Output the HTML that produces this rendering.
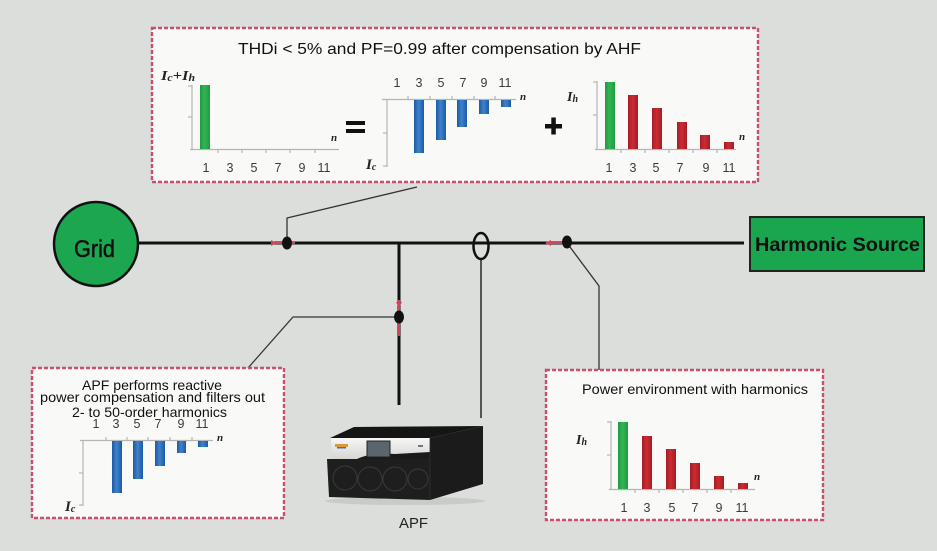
<!DOCTYPE html>
<html><head><meta charset="utf-8"><style>
html,body{margin:0;padding:0;background:#dcdedb;}
svg{display:block;}
.t{font-family:"Liberation Sans",sans-serif;}
.lab{font-family:"Liberation Sans",sans-serif;font-size:12.5px;fill:#3a3a3a;text-anchor:middle;}
.iv{font-family:"Liberation Serif",serif;font-style:italic;font-weight:bold;fill:#222;}
</style></head><body>
<svg width="937" height="551" viewBox="0 0 937 551" xmlns="http://www.w3.org/2000/svg">
<defs>
<linearGradient id="gb" x1="0" x2="1" y1="0" y2="0"><stop offset="0" stop-color="#1d5aa3"/><stop offset="0.45" stop-color="#3f82cc"/><stop offset="1" stop-color="#1d5aa3"/></linearGradient>
<linearGradient id="gr" x1="0" x2="1" y1="0" y2="0"><stop offset="0" stop-color="#a51d25"/><stop offset="0.45" stop-color="#cc2b33"/><stop offset="1" stop-color="#a51d25"/></linearGradient>
<linearGradient id="gg" x1="0" x2="1" y1="0" y2="0"><stop offset="0" stop-color="#1f9a3f"/><stop offset="0.45" stop-color="#33b553"/><stop offset="1" stop-color="#1f9a3f"/></linearGradient>
<linearGradient id="gs" x1="0" x2="0" y1="0" y2="1"><stop offset="0" stop-color="#f7f7f5"/><stop offset="1" stop-color="#d4d5d3"/></linearGradient>
</defs>
<rect width="937" height="551" fill="#dcdedb"/>

<!-- Top box -->
<rect x="152" y="28" width="606" height="154" fill="#f9f9f7" stroke="#c8506a" stroke-width="2.4" stroke-dasharray="4 2"/>
<text class="t" x="238" y="54" font-size="16" fill="#111" textLength="403" lengthAdjust="spacingAndGlyphs">THDi &lt; 5% and PF=0.99 after compensation by  AHF</text>

<!-- chart 1 -->
<text class="iv" x="161" y="80" font-size="14" textLength="34" lengthAdjust="spacingAndGlyphs">I<tspan font-size="10" dy="1">c</tspan><tspan dy="-1">+I</tspan><tspan font-size="10" dy="1">h</tspan></text>
<g stroke="#b5b5b5" stroke-width="1.2">
<line x1="192" y1="85" x2="192" y2="150"/><line x1="188" y1="117" x2="192" y2="117"/><line x1="188" y1="86" x2="192" y2="86"/>
<line x1="190" y1="149.5" x2="339" y2="149.5"/>
<line x1="218" y1="149" x2="218" y2="153"/><line x1="242" y1="149" x2="242" y2="153"/><line x1="266" y1="149" x2="266" y2="153"/><line x1="290" y1="149" x2="290" y2="153"/><line x1="315" y1="149" x2="315" y2="153"/>
</g>
<rect x="200" y="85" width="10" height="64" fill="url(#gg)"/>
<text class="iv" x="331" y="141" font-size="11">n</text>
<g class="lab"><text x="206" y="172">1</text><text x="230" y="172">3</text><text x="254" y="172">5</text><text x="278" y="172">7</text><text x="302" y="172">9</text><text x="324" y="172">11</text></g>

<!-- = -->
<rect x="346" y="121" width="19" height="4" fill="#111"/><rect x="346" y="129" width="19" height="4" fill="#111"/>

<!-- chart 2 -->
<g stroke="#b5b5b5" stroke-width="1.2">
<line x1="387" y1="99" x2="387" y2="167"/><line x1="383" y1="133" x2="387" y2="133"/><line x1="383" y1="166" x2="387" y2="166"/>
<line x1="382" y1="99.5" x2="516" y2="99.5"/>
<line x1="408" y1="96" x2="408" y2="100"/><line x1="430" y1="96" x2="430" y2="100"/><line x1="452" y1="96" x2="452" y2="100"/><line x1="474" y1="96" x2="474" y2="100"/><line x1="495" y1="96" x2="495" y2="100"/>
</g>
<rect x="414" y="100" width="10" height="53" fill="url(#gb)"/>
<rect x="436" y="100" width="10" height="40" fill="url(#gb)"/>
<rect x="457" y="100" width="10" height="27" fill="url(#gb)"/>
<rect x="479" y="100" width="10" height="14" fill="url(#gb)"/>
<rect x="501" y="100" width="10" height="7" fill="url(#gb)"/>
<text class="iv" x="520" y="100" font-size="11">n</text>
<text class="iv" x="366" y="169" font-size="15">I<tspan font-size="10" dy="1">c</tspan></text>
<g class="lab"><text x="397" y="87">1</text><text x="419" y="87">3</text><text x="441" y="87">5</text><text x="463" y="87">7</text><text x="484" y="87">9</text><text x="505" y="87">11</text></g>

<!-- + -->
<rect x="545" y="124" width="17" height="4.5" fill="#111"/><rect x="551.3" y="117.5" width="4.5" height="17" fill="#111"/>

<!-- chart 3 -->
<text class="iv" x="567" y="101" font-size="14">I<tspan font-size="10" dy="1">h</tspan></text>
<g stroke="#b5b5b5" stroke-width="1.2">
<line x1="597" y1="81" x2="597" y2="149"/><line x1="593" y1="115" x2="597" y2="115"/><line x1="593" y1="82" x2="597" y2="82"/>
<line x1="595" y1="149.5" x2="736" y2="149.5"/>
<line x1="621" y1="149" x2="621" y2="153"/><line x1="645" y1="149" x2="645" y2="153"/><line x1="669" y1="149" x2="669" y2="153"/><line x1="693" y1="149" x2="693" y2="153"/><line x1="717" y1="149" x2="717" y2="153"/>
</g>
<rect x="605" y="82" width="10" height="67" fill="url(#gg)"/>
<rect x="628" y="95" width="10" height="54" fill="url(#gr)"/>
<rect x="652" y="108" width="10" height="41" fill="url(#gr)"/>
<rect x="677" y="122" width="10" height="27" fill="url(#gr)"/>
<rect x="700" y="135" width="10" height="14" fill="url(#gr)"/>
<rect x="724" y="142" width="10" height="7" fill="url(#gr)"/>
<text class="iv" x="739" y="140" font-size="11">n</text>
<g class="lab"><text x="609" y="172">1</text><text x="633" y="172">3</text><text x="656" y="172">5</text><text x="680" y="172">7</text><text x="706" y="172">9</text><text x="729" y="172">11</text></g>

<!-- Main diagram lines -->
<line x1="136" y1="243" x2="744" y2="243" stroke="#111" stroke-width="3"/>
<line x1="399" y1="243" x2="399" y2="405" stroke="#111" stroke-width="3"/>
<!-- leaders -->
<polyline points="287,243 287,218 417,187" fill="none" stroke="#333" stroke-width="1.3"/>
<polyline points="399,317 293,317 248,368" fill="none" stroke="#333" stroke-width="1.3"/>
<polyline points="567,243 599,286 599,370" fill="none" stroke="#333" stroke-width="1.3"/>
<line x1="481" y1="259" x2="481" y2="418" stroke="#333" stroke-width="1.6"/>
<!-- red arrows -->
<line x1="271" y1="243" x2="295" y2="243" stroke="#d0455a" stroke-width="2"/>
<polygon points="271,240 277,243 271,246" fill="#d0455a"/>
<line x1="546" y1="243" x2="563" y2="243" stroke="#d0455a" stroke-width="2"/>
<polygon points="545,243 551,240 551,246" fill="#d0455a"/>
<line x1="399" y1="300" x2="399" y2="336" stroke="#d0455a" stroke-width="2"/>
<polygon points="396,302 402,302 399,308" fill="#d0455a"/>
<!-- dots -->
<ellipse cx="287" cy="243" rx="5" ry="6.5" fill="#111"/>
<ellipse cx="399" cy="317" rx="5" ry="6.5" fill="#111"/>
<ellipse cx="567" cy="242" rx="5" ry="6.5" fill="#111"/>
<!-- CT -->
<ellipse cx="481" cy="246" rx="7.5" ry="13" fill="none" stroke="#111" stroke-width="2.5"/>

<!-- Grid -->
<circle cx="96" cy="244" r="42" fill="#1ba64f" stroke="#111" stroke-width="2.5"/>
<text class="t" x="74" y="257" font-size="24" fill="#111" stroke="#111" stroke-width="0.5" textLength="41" lengthAdjust="spacingAndGlyphs">Grid</text>

<!-- Harmonic Source -->
<rect x="750" y="217" width="174" height="54" fill="#19a64e" stroke="#222" stroke-width="2"/>
<text class="t" x="755" y="251" font-size="19" font-weight="bold" fill="#111" textLength="165" lengthAdjust="spacingAndGlyphs">Harmonic Source</text>

<!-- Bottom-left box -->
<rect x="32" y="368" width="252" height="150" fill="#f9f9f7" stroke="#c8506a" stroke-width="2.4" stroke-dasharray="4 2"/>
<text class="t" x="82" y="390" font-size="14" fill="#111" textLength="140" lengthAdjust="spacingAndGlyphs">APF performs reactive</text>
<text class="t" x="40" y="402" font-size="14" fill="#111" textLength="225" lengthAdjust="spacingAndGlyphs">power compensation and filters out</text>
<text class="t" x="72" y="417" font-size="14" fill="#111" textLength="155" lengthAdjust="spacingAndGlyphs">2- to 50-order harmonics</text>
<g class="lab"><text x="96" y="428">1</text><text x="116" y="428">3</text><text x="137" y="428">5</text><text x="158" y="428">7</text><text x="181" y="428">9</text><text x="202" y="428">11</text></g>
<g stroke="#b5b5b5" stroke-width="1.2">
<line x1="83" y1="440" x2="83" y2="506"/><line x1="79" y1="473" x2="83" y2="473"/><line x1="79" y1="505" x2="83" y2="505"/>
<line x1="80" y1="440.5" x2="213" y2="440.5"/>
<line x1="106" y1="437" x2="106" y2="441"/><line x1="127" y1="437" x2="127" y2="441"/><line x1="148" y1="437" x2="148" y2="441"/><line x1="170" y1="437" x2="170" y2="441"/><line x1="192" y1="437" x2="192" y2="441"/>
</g>
<rect x="112" y="441" width="10" height="52" fill="url(#gb)"/>
<rect x="133" y="441" width="10" height="38" fill="url(#gb)"/>
<rect x="155" y="441" width="10" height="25" fill="url(#gb)"/>
<rect x="177" y="441" width="9" height="12" fill="url(#gb)"/>
<rect x="198" y="441" width="10" height="6" fill="url(#gb)"/>
<text class="iv" x="217" y="441" font-size="11">n</text>
<text class="iv" x="65" y="511" font-size="15">I<tspan font-size="10" dy="1">c</tspan></text>

<!-- Bottom-right box -->
<rect x="546" y="370" width="277" height="150" fill="#f9f9f7" stroke="#c8506a" stroke-width="2.4" stroke-dasharray="4 2"/>
<text class="t" x="582" y="394" font-size="14" fill="#111" textLength="226" lengthAdjust="spacingAndGlyphs">Power environment with harmonics</text>
<text class="iv" x="576" y="444" font-size="14">I<tspan font-size="10" dy="1">h</tspan></text>
<g stroke="#b5b5b5" stroke-width="1.2">
<line x1="611" y1="421" x2="611" y2="489"/><line x1="607" y1="455" x2="611" y2="455"/><line x1="607" y1="422" x2="611" y2="422"/>
<line x1="609" y1="489.5" x2="755" y2="489.5"/>
<line x1="635" y1="489" x2="635" y2="493"/><line x1="659" y1="489" x2="659" y2="493"/><line x1="683" y1="489" x2="683" y2="493"/><line x1="707" y1="489" x2="707" y2="493"/><line x1="731" y1="489" x2="731" y2="493"/>
</g>
<rect x="618" y="422" width="10" height="67" fill="url(#gg)"/>
<rect x="642" y="436" width="10" height="53" fill="url(#gr)"/>
<rect x="666" y="449" width="10" height="40" fill="url(#gr)"/>
<rect x="690" y="463" width="10" height="26" fill="url(#gr)"/>
<rect x="714" y="476" width="10" height="13" fill="url(#gr)"/>
<rect x="738" y="483" width="10" height="6" fill="url(#gr)"/>
<text class="iv" x="754" y="480" font-size="11">n</text>
<g class="lab"><text x="624" y="512">1</text><text x="647" y="512">3</text><text x="672" y="512">5</text><text x="695" y="512">7</text><text x="719" y="512">9</text><text x="742" y="512">11</text></g>

<!-- APF device -->
<ellipse cx="405" cy="501" rx="80" ry="4" fill="#c9cbc8"/>
<polygon points="330,438 354,427 483,426 430,438" fill="#151515"/>
<polygon points="430,438 483,426 483,484 430,500" fill="#1b1b1b"/>
<polygon points="331,438 430,438 430,460 332,460" fill="url(#gs)"/>
<path d="M355,460 Q370,452 395,454 L430,452 L430,460 Z" fill="#1a1a1a"/>
<rect x="367" y="441" width="23" height="16" fill="#5b656d" stroke="#222" stroke-width="1"/>
<rect x="335" y="444" width="13" height="3" fill="#d89a3a"/>
<rect x="337" y="447" width="9" height="1.5" fill="#4a6fa8"/>
<rect x="418" y="445" width="5" height="2" fill="#777"/>
<polygon points="327,459 430,459 430,500 329,497" fill="#1e1e1e"/>
<g fill="none" stroke="#3a3a3a" stroke-width="1">
<circle cx="345" cy="478" r="12"/><circle cx="370" cy="479" r="12"/><circle cx="395" cy="479" r="12"/><circle cx="418" cy="479" r="10"/>
</g>
<line x1="430" y1="438" x2="430" y2="500" stroke="#333" stroke-width="0.8"/>
<text class="t" x="399" y="528" font-size="15" fill="#222" textLength="29" lengthAdjust="spacingAndGlyphs">APF</text>
</svg>
</body></html>
